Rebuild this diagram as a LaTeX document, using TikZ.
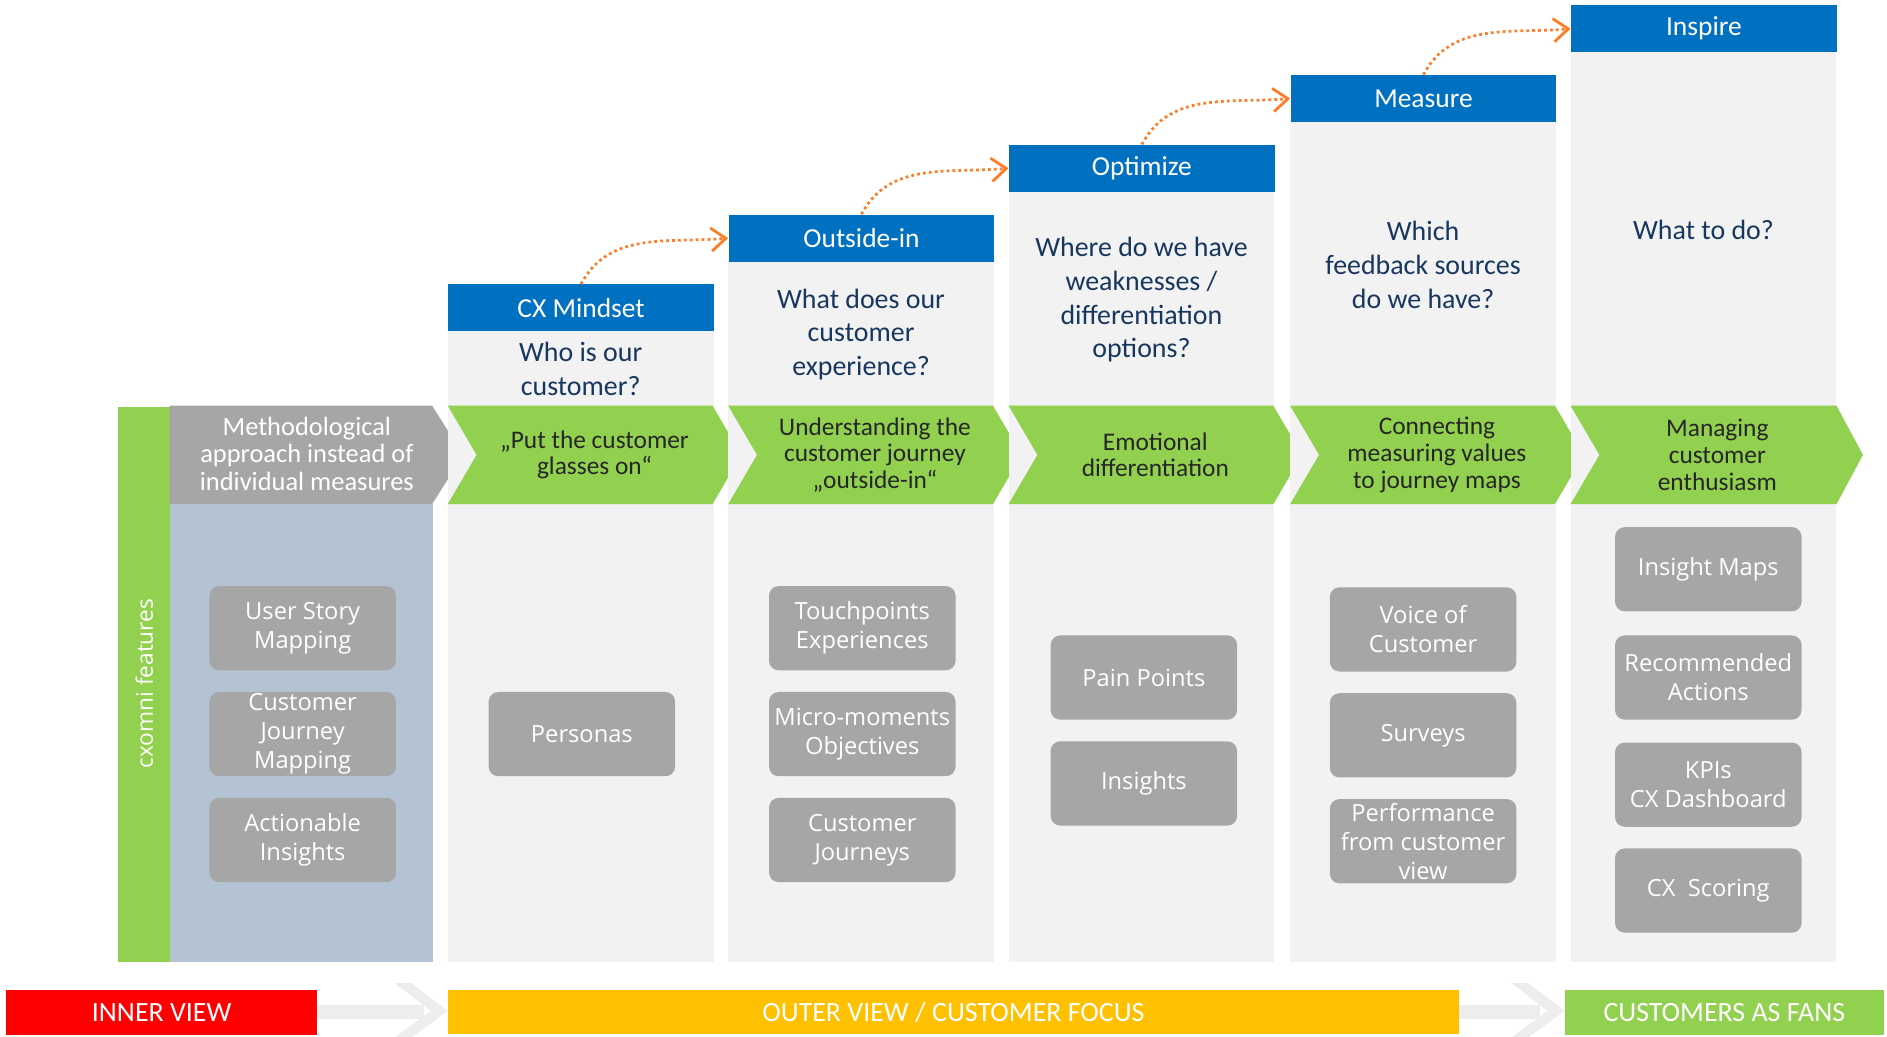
\documentclass[tikz,border=0pt]{standalone}
\usepackage{fontspec}
\setmainfont{Carlito}
\newfontfamily\featfont{Open Sans}
\usetikzlibrary{arrows.meta}

\definecolor{hdrblue}{HTML}{0070C0}
\definecolor{qnavy}{HTML}{17375E}
\definecolor{cxgreen}{HTML}{92D050}
\definecolor{colgray}{HTML}{F2F2F2}
\definecolor{featgray}{HTML}{A6A6A6}
\definecolor{panelblue}{HTML}{B4C3D3}
\definecolor{floworange}{HTML}{FF7B25}
\definecolor{viewred}{HTML}{FF0000}
\definecolor{viewyellow}{HTML}{FFC000}
\definecolor{arrowgray}{HTML}{EDEDED}

\begin{document}
\begin{tikzpicture}[x=0.02cm, y=-0.02cm,
    header/.style={fill=hdrblue, text=white, minimum width=4.42cm, minimum height=0.78cm,
      inner sep=0pt, anchor=north west, font=\fontsize{13}{15}\selectfont},
    question/.style={text=qnavy, align=center, inner sep=0pt, font=\fontsize{13.2}{16}\selectfont},
    chevtext/.style={text=black!85, align=center, inner sep=0pt, font=\fontsize{12}{12.6}\selectfont},
    feature/.style={fill=featgray, text=white, rounded corners=0.16cm, minimum width=3.1cm,
      minimum height=1.4cm, inner sep=0pt, align=center, font=\featfont\fontsize{11.2}{13.7}\selectfont},
    banner/.style={text=white, inner sep=0pt, anchor=north west, font=\fontsize{13.2}{15}\selectfont},
    flow/.style={floworange, line width=1.3pt, dash pattern=on 1.3pt off 1.5pt,
      -{Straight Barb[length=7pt,width=11pt,line width=1.3pt]}}]
    \useasboundingbox (0,0) rectangle (1568,861);

    % left part: features label and methodology
    \fill[cxgreen] (98,338) rectangle (141,799);
    \node[rotate=90, text=white, font=\featfont\fontsize{10.7}{12}\selectfont] (features) at (120,568) {cxomni features};
    \fill[panelblue] (141,419) rectangle (360,799);
    \fill[featgray] (141,337) -- (359,337) -- (385,378) -- (359,419) -- (141,419) -- cycle;
    \node[align=center, text=white, inner sep=0pt, font=\fontsize{12.5}{13.1}\selectfont] (method) at (255,377)
      {Methodological\\approach instead of\\individual measures};
    \node[feature] (featM1) at (251.5,522) {User Story\\Mapping};
    \node[feature] (featM2) at (251.5,610) {Customer\\Journey\\Mapping};
    \node[feature] (featM3) at (251.5,698) {Actionable\\Insights};

    \begin{scope}[shift={(372,0)}]
      \fill[colgray] (0,275) rectangle (221,799);
      \node[header] (hdrA) at (0,236) {CX Mindset};
      \node[question] (qA) at (110.5,306.5) {Who is our\\customer?};
      \fill[cxgreen] (0,337) -- (220,337) -- (244,378) -- (220,419) -- (0,419) -- (24,378) -- cycle;
      \node[chevtext] (chevA) at (122,378) {„Put the customer\\glasses on“};
      \node[feature] (featA1) at (111.5,610) {Personas};
    \end{scope}

    \begin{scope}[shift={(605,0)}]
      \fill[colgray] (0,217) rectangle (221,799);
      \node[header] (hdrB) at (0,178) {Outside-in};
      \node[question] (qB) at (110.5,278) {What does our\\customer\\experience?};
      \fill[cxgreen] (0,337) -- (220,337) -- (244,378) -- (220,419) -- (0,419) -- (24,378) -- cycle;
      \node[chevtext] (chevB) at (122,378) {Understanding the\\customer journey\\„outside-in“};
      \node[feature] (featB1) at (111.5,522) {Touchpoints\\Experiences};
      \node[feature] (featB2) at (111.5,610) {Micro-moments\\Objectives};
      \node[feature] (featB3) at (111.5,698) {Customer\\Journeys};
    \end{scope}

    \begin{scope}[shift={(838,0)}]
      \fill[colgray] (0,159) rectangle (221,799);
      \node[header] (hdrC) at (0,120) {Optimize};
      \node[question] (qC) at (110.5,249) {Where do we have\\weaknesses /\\differentiation\\options?};
      \fill[cxgreen] (0,337) -- (220,337) -- (244,378) -- (220,419) -- (0,419) -- (24,378) -- cycle;
      \node[chevtext] (chevC) at (122,378) {Emotional\\differentiation};
      \node[feature] (featC1) at (112.5,563) {Pain Points};
      \node[feature] (featC2) at (112.5,651) {Insights};
    \end{scope}

    \begin{scope}[shift={(1072,0)}]
      \fill[colgray] (0,101) rectangle (221,799);
      \node[header] (hdrD) at (0,62) {Measure};
      \node[question] (qD) at (110.5,220) {Which\\feedback sources\\do we have?};
      \fill[cxgreen] (0,337) -- (220,337) -- (244,378) -- (220,419) -- (0,419) -- (24,378) -- cycle;
      \node[chevtext] (chevD) at (122,378) {Connecting\\measuring values\\to journey maps};
      \node[feature] (featD1) at (110.5,523) {Voice of\\Customer};
      \node[feature] (featD2) at (110.5,611) {Surveys};
      \node[feature] (featD3) at (110.5,699) {Performance\\from customer\\view};
    \end{scope}

    \begin{scope}[shift={(1305,0)}]
      \fill[colgray] (0,43) rectangle (221,799);
      \node[header] (hdrE) at (0,4) {Inspire};
      \node[question] (qE) at (110.5,191) {What to do?};
      \fill[cxgreen] (0,337) -- (221,337) -- (243,378) -- (221,419) -- (0,419) -- (24,378) -- cycle;
      \node[chevtext] (chevE) at (122,378) {Managing\\customer\\enthusiasm};
      \node[feature] (featE1) at (114.5,473) {Insight Maps};
      \node[feature] (featE2) at (114.5,563) {Recommended\\Actions};
      \node[feature] (featE3) at (114.5,652) {KPIs\\CX Dashboard};
      \node[feature] (featE4) at (114.5,740) {CX\ \ Scoring};
    \end{scope}

    % steps up
    \draw[flow] (hdrA.north) to[out=62,in=185] (hdrB.west);
    \draw[flow] (hdrB.north) to[out=62,in=185] (hdrC.west);
    \draw[flow] (hdrC.north) to[out=62,in=185] (hdrD.west);
    \draw[flow] (hdrD.north) to[out=62,in=185] (hdrE.west);

    % bottom line
    \fill[arrowgray] (263,835) rectangle (352,847);
    \fill[arrowgray] (328,817) -- (342,817) -- (372,840) -- (342,862) -- (328,862) -- (358,840) -- cycle;
    \fill[arrowgray] (1212,835) rectangle (1280,847);
    \fill[arrowgray] (1256,817) -- (1270,817) -- (1300,840) -- (1270,862) -- (1256,862) -- (1286,840) -- cycle;
    \node[banner, fill=viewred, minimum width=5.16cm, minimum height=0.76cm] (inner) at (5,822) {INNER VIEW};
    \node[banner, fill=viewyellow, minimum width=16.8cm, minimum height=0.74cm] (outer) at (372,822) {OUTER VIEW / CUSTOMER FOCUS};
    \node[banner, fill=cxgreen, minimum width=5.3cm, minimum height=0.76cm] (fans) at (1300,822) {CUSTOMERS AS FANS};
\end{tikzpicture}
\end{document}
